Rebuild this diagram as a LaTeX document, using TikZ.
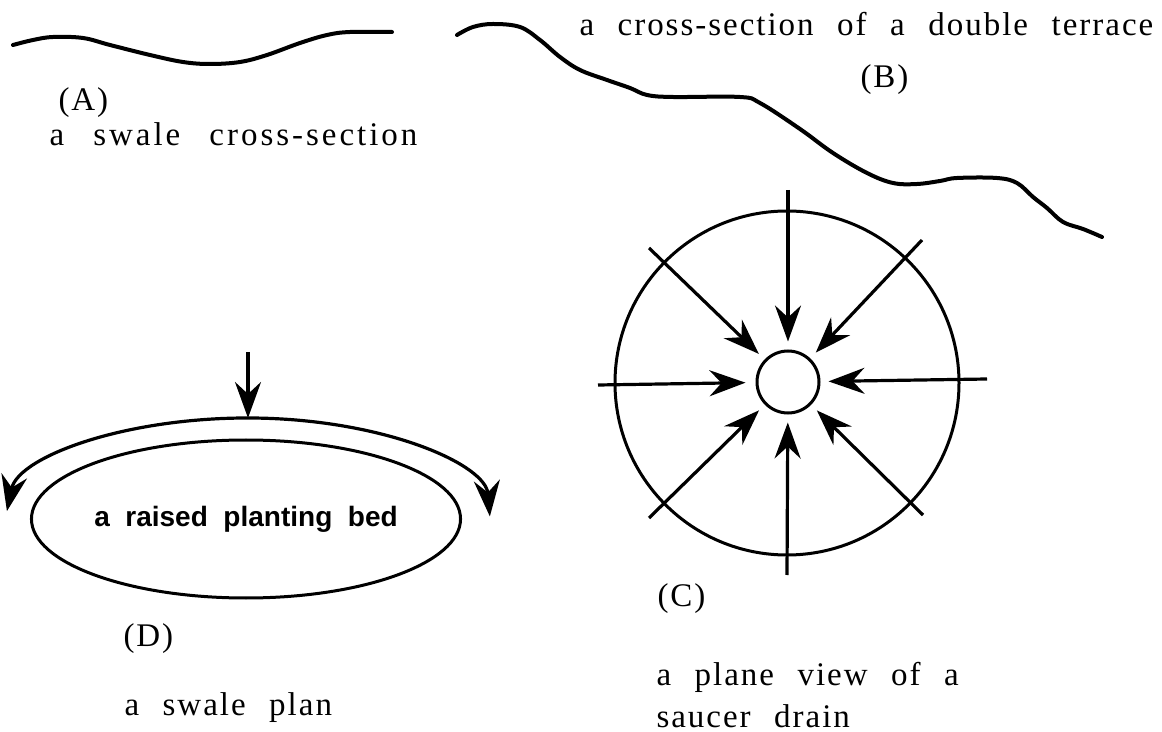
\documentclass[tikz,border=0pt]{standalone}
\usepackage{fontspec}
\setmainfont{Liberation Serif}
\newfontfamily\capfont[LetterSpace=6,WordSpace=2.3]{Liberation Serif}
\newfontfamily\widefont[LetterSpace=9,WordSpace=2.6]{Liberation Serif}
\newfontfamily\bedfont[WordSpace=2]{Liberation Sans}
\usetikzlibrary{arrows.meta,shapes.geometric}

\begin{document}
\begin{tikzpicture}[x=.5pt,y=-.5pt,line width=1.5pt,
  caption/.style={anchor=base west,inner sep=0pt,font=\capfont\fontsize{16.5}{21}\selectfont},
  ground/.style={line width=2pt,line cap=round,line join=round},
  flow/.style={line width=1.6pt,-{Stealth[length=18pt,width=13pt,inset=6pt]}},
  twoway/.style={line width=1.6pt,{Stealth[length=18pt,width=13pt,inset=6pt]}-{Stealth[length=18pt,width=13pt,inset=6pt]}}]
\path[use as bounding box] (0,0) rectangle (1162,732);
% (A) swale cross-section
\draw[ground] plot[smooth,tension=.6] coordinates {(13,45) (33,40) (53,37) (83,38) (110,45) (150,55) (183,62) (210,64) (240,62) (267,55) (300,43) (327,35) (350,32) (392,32)};
\node[caption] (labA) at (57,111) {(A)};
\node[caption,font=\widefont\fontsize{16.5}{21}\selectfont] (capA) at (48,146) {a swale cross-section};
% (B) double terrace
\draw[ground] plot[smooth,tension=.6] coordinates {(457,35) (473,27) (493,24) (520,27) (540,40) (560,57) (580,70) (607,80) (630,88) (647,95) (673,97) (740,97) (760,103) (800,129) (833,153) (867,173) (893,183) (917,184) (940,181) (957,178) (997,178) (1017,183) (1033,197) (1047,208) (1063,222) (1083,229) (1102,237)};
\node[caption] (capB) at (578,36) {a cross-section of a double terrace};
\node[caption] (labB) at (859,88) {(B)};
% (C) saucer drain
\node[circle,draw,minimum size=172pt,inner sep=0pt] (saucer) at (787,383) {};
\node[circle,draw,minimum size=31pt,inner sep=0pt] (drain) at (788,382) {};
\coordinate (inN) at (788,190);
\coordinate (inS) at (787,575);
\coordinate (inW) at (598,385);
\coordinate (inE) at (987,379);
\coordinate (inNW) at (649,248);
\coordinate (inNE) at (922,240);
\coordinate (inSW) at (649,518);
\coordinate (inSE) at (923,515);
\draw[flow,shorten >=4pt] (inN) -- (drain);
\draw[flow,shorten >=4pt] (inS) -- (drain);
\draw[flow,shorten >=5pt] (inW) -- (drain);
\draw[flow,shorten >=4pt] (inE) -- (drain);
\draw[flow,shorten >=4pt] (inNW) -- (drain);
\draw[flow,shorten >=4pt] (inNE) -- (drain);
\draw[flow,shorten >=4pt] (inSW) -- (drain);
\draw[flow,shorten >=4pt] (inSE) -- (drain);
\node[caption] (labC) at (656,606) {(C)};
\node[caption] (capC1) at (655,685) {a plane view of a};
\node[caption] (capC2) at (655,727) {saucer drain};
% (D) swale plan
\node[ellipse,draw,minimum width=204pt,minimum height=79pt,inner sep=0pt,font=\bedfont\bfseries\fontsize{14}{16}\selectfont] (bed) at (246,519) {a raised planting bed};
\draw[twoway] (248,520) ++(185:242 and 102) arc[start angle=185,end angle=358,x radius=242,y radius=102];
\coordinate (rain) at (248,352);
\coordinate (crest) at (248,418);
\draw[flow] (rain) -- (crest);
\node[caption] (labD) at (122,646) {(D)};
\node[caption] (capD) at (123,715) {a swale plan};
\end{tikzpicture}
\end{document}
